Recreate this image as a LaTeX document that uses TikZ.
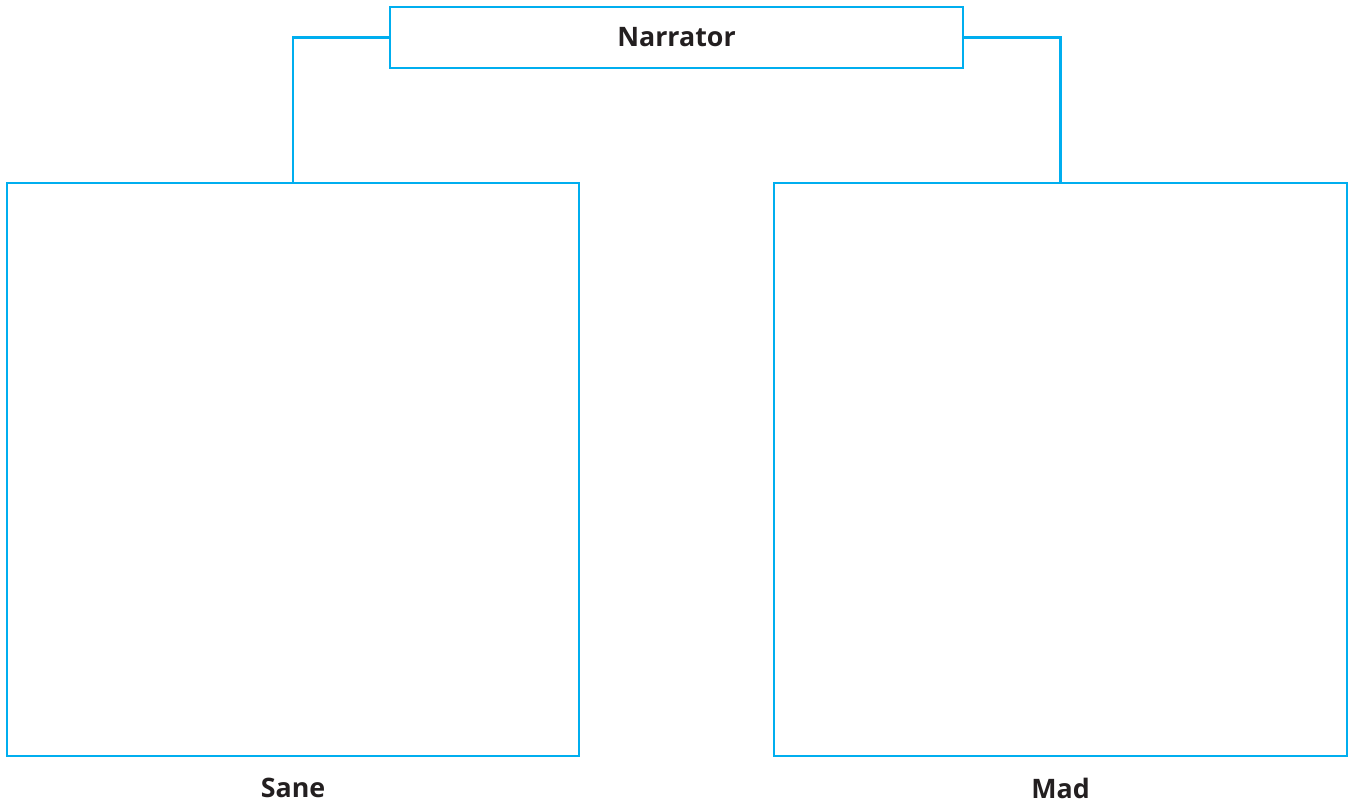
\documentclass[tikz,border=0pt]{standalone}
\usepackage{fontspec}
\setmainfont{Open Sans}
\definecolor{cyanline}{HTML}{00AEEF}
\definecolor{txt}{HTML}{231F20}
\begin{document}
\begin{tikzpicture}[x=1pt,y=-1pt,
  box/.style={draw=cyanline,line width=2.6pt,fill=white},
  conn/.style={draw=cyanline,line width=2.6pt},
  lbl/.style={text=txt,font=\fontsize{26.8}{32}\selectfont\bfseries}]
\useasboundingbox (0,0) rectangle (1352,806);
\node[box,minimum width=573pt,minimum height=61pt,inner sep=0pt] (narr) at (676.5,37.5) {};
\node[lbl] (narrt) at (676.5,37.5) {Narrator};
\node[box,minimum width=572pt,minimum height=573pt,inner sep=0pt] (sane) at (293,469.5) {};
\node[box,minimum width=573pt,minimum height=573pt,inner sep=0pt] (mad) at (1060.5,469.5) {};
\node[lbl,anchor=center] (sanel) at (293,788) {Sane};
\node[lbl,anchor=center] (madl) at (1060.5,788) {Mad};
\draw[conn] (narr.west) -| (sane.north);
\draw[conn] (narr.east) -| (mad.north);
\end{tikzpicture}
\end{document}
